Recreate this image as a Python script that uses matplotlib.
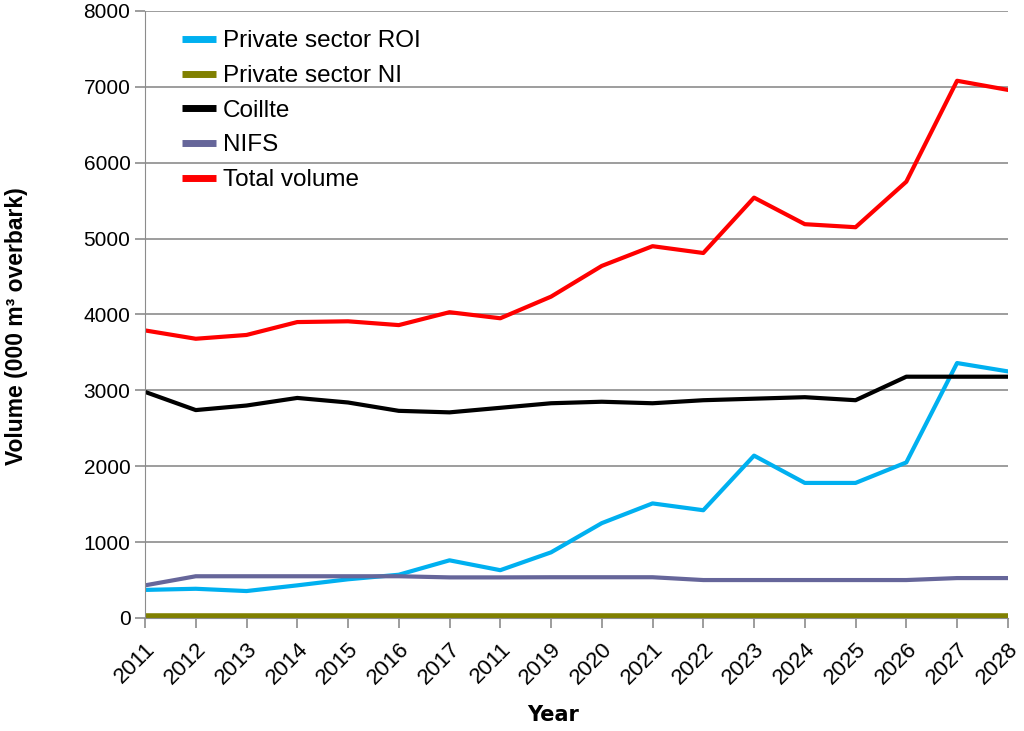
import numpy as np
import matplotlib
matplotlib.use('Agg')
import matplotlib.pyplot as plt

plt.rcParams['font.family'] = ['Liberation Sans', 'DejaVu Sans']

years = ['2011', '2012', '2013', '2014', '2015', '2016', '2017', '2011', '2019',
         '2020', '2021', '2022', '2023', '2024', '2025', '2026', '2027', '2028']

private_roi = [370, 385, 355, 430, 510, 570, 760, 630, 865,
               1250, 1510, 1420, 2140, 1780, 1780, 2050, 3360, 3250]
private_ni = [30] * 18
coillte = [2980, 2740, 2800, 2900, 2840, 2730, 2710, 2770, 2830,
           2850, 2830, 2870, 2890, 2910, 2870, 3180, 3180, 3180]
nifs = [430, 550, 550, 550, 550, 550, 535, 535, 537,
        537, 537, 500, 500, 500, 500, 500, 526, 526]
total = [3790, 3680, 3730, 3900, 3910, 3860, 4030, 3950, 4235,
         4640, 4900, 4810, 5540, 5190, 5150, 5750, 7080, 6960]

x = np.arange(len(years))

figure = plt.figure(figsize=(10.24, 7.31), dpi=100)
axes = figure.add_axes([0.1416, 0.1546, 0.8426, 0.8304])

axes.plot(x, private_roi, color='#00b0f0', linewidth=3, label='Private sector ROI')
axes.plot(x, private_ni, color='#808000', linewidth=4, label='Private sector NI',
          clip_on=False, solid_capstyle='butt')
axes.plot(x, coillte, color='black', linewidth=3, label='Coillte')
axes.plot(x, nifs, color='#66669a', linewidth=3, label='NIFS')
axes.plot(x, total, color='#ff0000', linewidth=3, label='Total volume')

axes.set_xlim(0, len(years) - 1)
axes.set_ylim(0, 8000)
axes.set_yticks(np.arange(0, 8001, 1000))
axes.set_xticks(x)
axes.set_xticklabels(years, rotation=45, ha='right', rotation_mode='anchor')
axes.yaxis.grid(True, color='#8c8c8c', linewidth=1.2)
axes.set_axisbelow(True)

for side in ['top', 'right']:
    axes.spines[side].set_visible(False)
axes.spines['left'].set_color('#8c8c8c')
axes.spines['bottom'].set_color('#8c8c8c')
axes.tick_params(axis='both', colors='#8c8c8c', length=7, width=1.2,
                 labelcolor='black', labelsize=15)
axes.tick_params(axis='x', pad=8, labelsize=16)

axes.set_ylabel('Volume (000 m³ overbark)', fontsize=16.5, fontweight='bold')
axes.yaxis.set_label_coords(-0.136, 0.481)
axes.set_xlabel('Year', fontsize=15, fontweight='heavy', family='DejaVu Sans')
axes.xaxis.set_label_coords(0.473, -0.143)

legend = axes.legend(loc='upper left', bbox_to_anchor=(0.02, 1.0), frameon=False,
                     fontsize=17.5, handlelength=1.4, handletextpad=0.3,
                     labelspacing=0.52, borderaxespad=0.4)
for line in legend.get_lines():
    line.set_linewidth(5)
    line.set_solid_capstyle('butt')

figure.savefig('out.png', dpi=100)
